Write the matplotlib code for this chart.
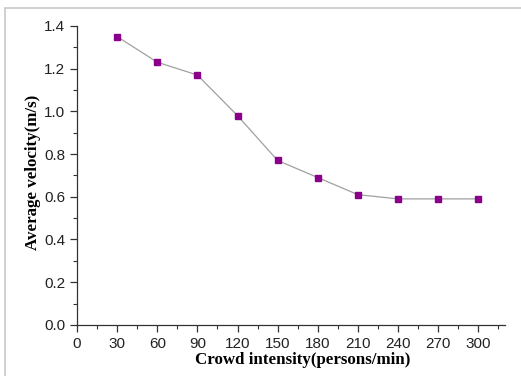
import matplotlib.pyplot as plt
from matplotlib.ticker import MultipleLocator
from matplotlib.patches import Rectangle

crowd_intensity = [30, 60, 90, 120, 150, 180, 210, 240, 270, 300]
avg_velocity = [1.35, 1.23, 1.17, 0.98, 0.77, 0.69, 0.61, 0.59, 0.59, 0.59]

fig = plt.figure(figsize=(5.21, 3.76), dpi=100)
ax = fig.add_axes([0.148, 0.136, 0.821, 0.795])

# light frame around the picture
fig.patches.append(Rectangle((5 / 521, -0.05), 1.2, 1 - 8 / 376 + 0.05,
                             transform=fig.transFigure, fill=False,
                             edgecolor="#c8c8c8", linewidth=1.2))

ax.plot(crowd_intensity, avg_velocity, color="#a0a0a0", linewidth=0.9,
        marker="s", markersize=5, markerfacecolor="#8b008b",
        markeredgecolor="#8b008b", zorder=3)

ax.set_xlim(0, 320)
ax.set_ylim(0, 1.4)
ax.xaxis.set_major_locator(MultipleLocator(30))
ax.xaxis.set_minor_locator(MultipleLocator(15))
ax.yaxis.set_major_locator(MultipleLocator(0.2))
ax.yaxis.set_minor_locator(MultipleLocator(0.1))
ax.set_xticks(crowd_intensity + [0])
ax.set_yticklabels([f"{v:.1f}" for v in ax.get_yticks()])

for s in ["top", "right"]:
    ax.spines[s].set_visible(False)
for s in ["left", "bottom"]:
    ax.spines[s].set_color("#333333")
    ax.spines[s].set_linewidth(0.9)

ax.tick_params(which="major", direction="out", length=5, width=0.9,
               color="#333333", labelsize=11, labelcolor="#222222")
ax.tick_params(which="minor", direction="out", length=3, width=0.8, color="#333333")
for lab in ax.get_xticklabels() + ax.get_yticklabels():
    lab.set_family("Liberation Sans")

ax.set_xlabel("Crowd intensity(persons/min)", family="Liberation Serif",
              fontweight="bold", fontsize=12.2)
ax.set_ylabel("Average velocity(m/s)", family="Liberation Serif",
              fontweight="bold", fontsize=12.2)
ax.xaxis.set_label_coords(0.527, -0.117, transform=ax.transAxes)
ax.xaxis.label.set_va("center")
ax.yaxis.set_label_coords(-0.104, 0.51, transform=ax.transAxes)
ax.yaxis.label.set_va("center")

fig.savefig("out.png", dpi=100)
